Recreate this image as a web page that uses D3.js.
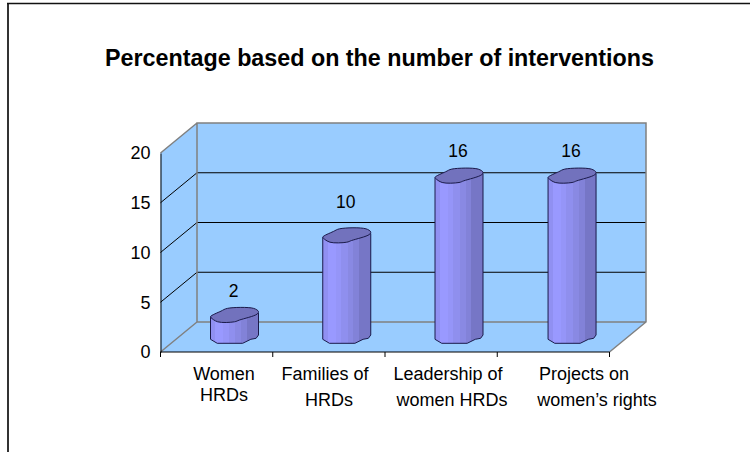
<!DOCTYPE html>
<html><head><meta charset="utf-8">
<script src="https://cdn.jsdelivr.net/npm/d3@7"></script>
<style>html,body{margin:0;padding:0;background:#fff}svg{display:block}text{font-family:"Liberation Sans",Arial,sans-serif;fill:#000}</style>
</head><body><svg id="c" width="750" height="452"></svg>
<script>
const categories = ["Women HRDs","Families of HRDs","Leadership of women HRDs","Projects on women’s rights"];
const values = [2,10,16,16];
const valueTicks = [0,5,10,15,20];
const categoryLines = [["Women","HRDs"],["Families of","HRDs"],["Leadership of","women HRDs"],["Projects on","women’s rights"]];
const title = "Percentage based on the number of interventions";

const svg = d3.select("#c");
const x = d3.scaleBand().domain(categories).range([160.5,609.5]);
const y = d3.scaleLinear().domain([0,20]).range([352,153]);
const dx = 36.5, dy = -30;
const wallC="#99ccff", greyC="#808080";
const fs=18;

svg.append("path").attr("d","M8,452V3.5").attr("fill","none").attr("stroke","#333").attr("stroke-width",2);
svg.append("path").attr("d","M7,3.5H750").attr("fill","none").attr("stroke","#111").attr("stroke-width",1.3);
svg.append("text").attr("x",379.5).attr("y",65.5).attr("text-anchor","middle").attr("font-size",23.3).attr("font-weight","bold").text(title);

const x0=x.range()[0], x1=x.range()[1];
svg.append("path").attr("d",`M${x0},${y(0)}V${y(20)}L${x0+dx},${y(20)+dy}H${x1+dx}V${y(0)+dy}L${x1},${y(0)}Z`).attr("fill",wallC);
valueTicks.filter(v=>v>0&&v<20).forEach(v=>{
  svg.append("path").attr("d",`M${x0},${y(v)}L${x0+dx},${y(v)+dy}H${x1+dx}`).attr("fill","none").attr("stroke","#000").attr("stroke-width",1);
});
svg.append("path").attr("d",`M${x0},${y(0)}L${x0+dx},${y(0)+dy}V${y(20)+dy}H${x1+dx}V${y(0)+dy}L${x1},${y(0)}M${x0+dx},${y(0)+dy}H${x1+dx}M${x0},${y(20)}L${x0+dx},${y(20)+dy}`)
  .attr("fill","none").attr("stroke",greyC).attr("stroke-width",1.5);

const axisY = d3.axisLeft(y).tickValues(valueTicks).tickSize(0).tickPadding(10);
const gy = svg.append("g").attr("transform",`translate(${x0},0)`).call(axisY);
gy.select(".domain").attr("stroke","#000");
gy.selectAll("text").attr("font-size",fs).attr("fill","#000").attr("font-family","Liberation Sans").attr("dy","0.33em");
const gx = svg.append("g").attr("transform",`translate(0,${y(0)})`);
gx.append("line").attr("x1",x0).attr("x2",x1).attr("stroke","#000");
[...categories.map(c=>x(c)),x1].forEach(t=>gx.append("line").attr("x1",t).attr("x2",t).attr("y2",5).attr("stroke","#000"));

const labelCx = [[224,224],[325,329],[448,452],[584,597]];
const labelBase = [[380,401],[380,406],[380,406],[380,406]];
categoryLines.forEach((ls,i)=>ls.forEach((l,j)=>{
  svg.append("text").attr("x",labelCx[i][j]).attr("y",labelBase[i][j]).attr("text-anchor","middle").attr("font-size",fs).attr("fill","#111").text(l);
}));

const barOff=50, barW=48, planeLift=14;
const defs=svg.append("defs");
const grad=defs.append("linearGradient").attr("id","cyl");
const bands=[[0,"#9090f2"],[.1,"#9999ff"],[.27,"#9595f8"],[.38,"#8f8fee"],[.52,"#8989e3"],[.64,"#8282d8"],[.76,"#7676c6"],[1,"#7676c6"]];
bands.forEach((s,i)=>{
  grad.append("stop").attr("offset",s[0]).attr("stop-color",s[1]);
  if(i<bands.length-1) grad.append("stop").attr("offset",bands[i+1][0]).attr("stop-color",s[1]);
});
const capShape=[[0,-1.5],[.22,-7],[.35,-9.7],[.9,-9.7],[1,-6.5],[.97,-4],[.6,2],[.5,3.7],[.15,3.7],[.01,-.5],[0,-1.5]];
const baseShape=[[0,1.3],[.14,5.3],[.67,5.3],[.84,1.3],[.95,.3],[1,-3]];
const labelLift=[12,22,13,13];
const capLine=d3.line().curve(d3.curveCatmullRomClosed.alpha(.5));
values.forEach((v,i)=>{
  const l=x(categories[i])+barOff+(i===3?.8:0), w=barW;
  const t=y(v)-planeLift, b=y(0)-planeLift;
  const g=svg.append("g").attr("stroke","#1a1a4a").attr("stroke-width",1);
  const side=[[l,t-1],...baseShape.map(p=>[l+p[0]*w,b+p[1]]),[l+w,t-5]];
  g.append("path").attr("fill","url(#cyl)").attr("d","M"+side.join("L")+"Z");
  g.append("path").attr("fill","#7272bd").attr("d",capLine(capShape.slice(0,-1).map(p=>[l+p[0]*w,t+p[1]])));
  svg.append("text").attr("x",l+w/2-1).attr("y",t-9-labelLift[i]).attr("text-anchor","middle").attr("font-size",fs-.5).text(v);
});
</script></body></html>
